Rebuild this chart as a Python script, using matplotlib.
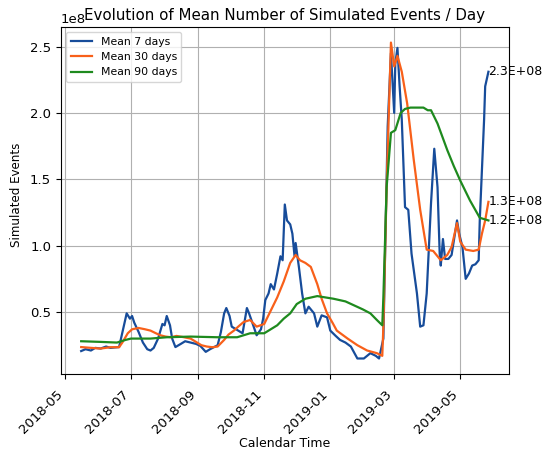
import pandas as pd
import matplotlib
matplotlib.use('Agg')
import matplotlib.pyplot as plt

# rolling means of simulated events, sampled at days since 2018-05-01
START = pd.Timestamp('2018-05-01')

days_7 = [15, 19, 24, 28, 33, 38, 42, 50, 57, 60, 62, 64, 68, 72, 76, 79, 82, 86,
          90, 92, 94, 97, 99, 102, 107, 111, 116, 121, 125, 130, 134, 141, 144,
          147, 149, 152, 154, 158, 164, 168, 170, 173, 177, 181, 183, 185, 188,
          190, 193, 196, 199, 201, 203, 205, 208, 210, 212, 213, 216, 219, 222,
          225, 230, 233, 237, 242, 245, 250, 254, 259, 264, 270, 276, 282, 287,
          290, 294, 298, 301, 304, 305, 307, 309, 311, 314, 317, 320, 325, 328,
          331, 334, 338, 341, 344, 346, 347, 349, 351, 354, 357, 362, 364, 367,
          370, 373, 376, 379, 382, 383, 387, 388, 391]
mean_7 = [0.206, 0.22, 0.21, 0.23, 0.225, 0.24, 0.23, 0.236, 0.49, 0.45, 0.47,
          0.42, 0.35, 0.27, 0.22, 0.21, 0.23, 0.30, 0.41, 0.40, 0.47, 0.40, 0.30,
          0.236, 0.26, 0.28, 0.27, 0.26, 0.245, 0.20, 0.22, 0.25, 0.35, 0.49,
          0.53, 0.47, 0.39, 0.37, 0.34, 0.53, 0.49, 0.42, 0.325, 0.37, 0.45, 0.59,
          0.64, 0.71, 0.67, 0.79, 0.92, 0.89, 1.31, 1.19, 1.16, 1.09, 0.92, 1.02,
          0.84, 0.64, 0.49, 0.54, 0.49, 0.39, 0.475, 0.46, 0.36, 0.32, 0.29, 0.27,
          0.24, 0.15, 0.15, 0.19, 0.17, 0.15, 0.30, 1.90, 2.45, 2.00, 2.37, 2.49,
          2.20, 1.95, 1.29, 1.27, 0.94, 0.64, 0.39, 0.40, 0.64, 1.32, 1.73, 1.44,
          0.94, 0.85, 1.05, 0.90, 0.90, 0.93, 1.19, 1.09, 0.99, 0.75, 0.79, 0.85,
          0.86, 0.89, 1.19, 1.95, 2.20, 2.31]

days_30 = [15, 24, 33, 42, 50, 53, 58, 62, 68, 74, 79, 84, 88, 93, 98, 103, 110,
           116, 122, 126, 131, 136, 141, 147, 151, 156, 160, 165, 171, 177, 184,
           190, 196, 202, 208, 213, 217, 222, 227, 233, 237, 242, 247, 251, 261,
           270, 279, 288, 293, 294, 297, 301, 304, 307, 311, 316, 322, 328, 334,
           340, 347, 353, 357, 362, 365, 370, 377, 382, 385, 388, 391]
mean_30 = [0.236, 0.23, 0.225, 0.235, 0.235, 0.27, 0.34, 0.37, 0.38, 0.37, 0.36,
           0.34, 0.325, 0.315, 0.31, 0.32, 0.31, 0.30, 0.27, 0.25, 0.24, 0.235,
           0.24, 0.29, 0.33, 0.36, 0.39, 0.425, 0.44, 0.39, 0.41, 0.51, 0.61,
           0.73, 0.87, 0.93, 0.89, 0.87, 0.84, 0.71, 0.60, 0.49, 0.42, 0.36, 0.30,
           0.25, 0.21, 0.19, 0.17, 0.39, 1.44, 2.53, 2.35, 2.43, 2.31, 2.07, 1.65,
           1.27, 0.97, 0.96, 0.89, 0.93, 0.99, 1.17, 1.03, 0.97, 0.96, 0.97, 1.09,
           1.19, 1.33]

days_90 = [15, 33, 48, 56, 61, 79, 94, 116, 141, 159, 171, 184, 190, 196, 202,
           208, 214, 222, 233, 248, 259, 267, 275, 282, 288, 293, 294, 297, 301,
           305, 310, 314, 319, 331, 335, 338, 344, 353, 359, 365, 374, 383, 387,
           391]
mean_90 = [0.28, 0.275, 0.27, 0.29, 0.30, 0.30, 0.31, 0.315, 0.31, 0.31, 0.34,
           0.34, 0.37, 0.40, 0.45, 0.49, 0.56, 0.60, 0.62, 0.60, 0.58, 0.55, 0.52,
           0.49, 0.44, 0.40, 0.61, 1.44, 1.85, 1.87, 2.00, 2.03, 2.04, 2.04, 2.02,
           2.02, 1.92, 1.72, 1.60, 1.49, 1.34, 1.21, 1.20, 1.19]

series = [
    ('Mean 7 days', days_7, mean_7, '#174c9a'),
    ('Mean 30 days', days_30, mean_30, '#f8601a'),
    ('Mean 90 days', days_90, mean_90, '#1e8a1e'),
]

fig = plt.figure(figsize=(5.43, 4.49), dpi=100)
ax = fig.add_axes([0.112, 0.1664, 0.825, 0.774])

for label, days, vals, color in series:
    dates = START + pd.to_timedelta(days, unit='D')
    events = [v * 1e8 for v in vals]
    ax.plot(dates, events, color=color, lw=1.6, label=label)
    # tag the last value of each curve
    ax.text(dates[-1], events[-1], '%.1E' % events[-1], fontsize=9,
            ha='left', va='center')

ax.xaxis.set_major_locator(matplotlib.dates.MonthLocator(bymonth=[1, 3, 5, 7, 9, 11]))
ax.xaxis.set_major_formatter(matplotlib.dates.DateFormatter('%Y-%m'))
plt.setp(ax.get_xticklabels(), rotation=45, ha='right')
ax.tick_params(axis='x', labelsize=9.5, pad=6)
ax.tick_params(axis='y', labelsize=9.5)
ax.yaxis.get_offset_text().set_fontsize(9.5)
ax.grid(True)
ax.legend(loc='upper left', fontsize=7.8)
# fixed y keeps the title level with the 1e8 offset text
ax.set_title('Evolution of Mean Number of Simulated Events / Day',
             fontsize=10.8, y=1.0, pad=5)
ax.set_xlabel('Calendar Time', fontsize=9, labelpad=1)
ax.set_ylabel('Simulated Events', fontsize=8.6)
ax.yaxis.set_label_coords(-0.085, 0.515)

fig.savefig('out.png', dpi=100)
